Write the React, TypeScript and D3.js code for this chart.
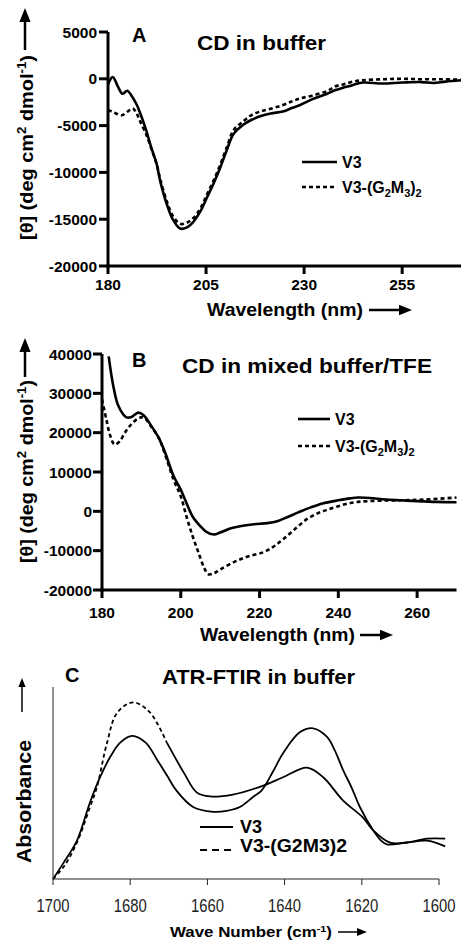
import React from 'react'
import * as d3 from 'd3'

// ---- panel A: CD in buffer ----
const aV3Wl = [180, 181.2, 182.5, 183.7, 184.9, 186, 187.3, 188.5, 189.8, 191, 192.4, 193.3, 195, 196.5, 198.4, 200, 201.7, 203.5, 205.2, 207, 208.6, 210.3, 212, 214.5, 216.5, 218.8, 221.5, 224.6, 227, 229, 232, 235.9, 238, 240, 242.5, 245, 250, 255, 260, 263, 266, 270]
const aV3 = [-600, 200, -800, -1600, -1270, -1800, -2750, -4000, -5600, -7300, -9100, -10900, -13400, -15000, -16000, -15900, -15300, -14200, -12700, -11100, -9500, -7600, -5900, -4900, -4400, -4000, -3700, -3500, -3100, -2800, -2200, -1600, -1200, -950, -650, -400, -500, -400, -350, -450, -300, -150]
const aG2Wl = [180, 181.5, 183.5, 185, 186.3, 187.3, 188.2, 189.8, 191, 192.4, 193.3, 195, 196.5, 198.4, 200, 201.7, 203.5, 205.2, 207, 208.6, 210.3, 212, 214.5, 216.5, 218.8, 221.5, 224.6, 227, 229, 232, 235.9, 238, 240, 242.5, 245, 250, 255, 260, 265, 270]
const aG2 = [-3300, -3600, -3900, -3500, -3170, -3700, -4550, -6000, -7400, -9100, -10700, -13100, -14600, -15500, -15400, -14900, -13900, -12400, -10800, -9200, -7300, -5500, -4550, -3900, -3500, -3200, -2800, -2400, -2100, -1800, -1300, -800, -600, -300, -150, -50, 0, -50, -50, -100]
const aXTicks = [180, 205, 230, 255]
const aYTicks = [5000, 0, -5000, -10000, -15000, -20000]

// ---- panel B: CD in mixed buffer/TFE ----
const bV3Wl = [181.7, 182.9, 184.2, 186.2, 187.5, 189.2, 190.5, 192.6, 194.5, 196, 198.2, 200, 201.5, 203, 205, 206.5, 208.4, 210, 212.7, 215, 218.6, 222, 224.5, 227, 230, 233, 236, 240, 243, 245, 248, 252, 256, 260, 265, 270]
const bV3 = [39400, 31700, 26700, 23900, 24000, 25100, 24500, 21600, 18500, 15000, 8900, 5500, 2000, -1300, -3800, -5200, -5900, -5400, -4300, -3800, -3300, -3000, -2500, -1500, -200, 1000, 2000, 2800, 3300, 3500, 3400, 3000, 2800, 2600, 2400, 2300]
const bG2Wl = [180, 181.1, 182, 183.2, 184.5, 185.8, 187.5, 189.2, 190.5, 192.6, 194.5, 196, 198.2, 200, 201.5, 203, 204.5, 206, 207, 208.5, 210, 213.5, 217, 221, 223.5, 226, 229, 232, 235, 237.5, 240, 242.5, 245, 247.7, 252, 256, 262, 270]
const bG2 = [28400, 23400, 19500, 17000, 17800, 20000, 22200, 23600, 23900, 21400, 18500, 14500, 8000, 3800, -1500, -6300, -10500, -14500, -16000, -15700, -14800, -12900, -11500, -10400, -9000, -7100, -4500, -2000, -400, 500, 1300, 2000, 2400, 2600, 2750, 2800, 3000, 3500]
const bXTicks = [180, 200, 220, 240, 260]
const bYTicks = [40000, 30000, 20000, 10000, 0, -10000, -20000]

// ---- panel C: ATR-FTIR in buffer ----
const cV3Wn = [1700, 1697.4, 1693.8, 1690.4, 1687.8, 1685.2, 1682.6, 1679.5, 1676, 1673, 1670.5, 1668, 1663.7, 1658.5, 1655, 1651.6, 1648, 1646, 1643, 1640.4, 1636, 1632.6, 1629, 1627, 1624.9, 1622.5, 1620.5, 1617.1, 1615, 1613.5, 1608.3, 1603.1, 1598.4]
const cV3 = [0, 0.08, 0.2, 0.4, 0.53, 0.635, 0.71, 0.745, 0.71, 0.62, 0.54, 0.46, 0.375, 0.35, 0.355, 0.375, 0.43, 0.46, 0.56, 0.655, 0.765, 0.785, 0.74, 0.67, 0.57, 0.47, 0.375, 0.255, 0.2, 0.18, 0.19, 0.2, 0.17]
const cG2Wn = [1700, 1697, 1693.8, 1690.5, 1688.6, 1686, 1683.4, 1679.3, 1675, 1670.5, 1666, 1662.7, 1659.3, 1653.4, 1646.4, 1640.4, 1634.2, 1630, 1624.9, 1619.7, 1617.1, 1612.7, 1608.3, 1603.1, 1598.4]
const cG2 = [0, 0.07, 0.19, 0.37, 0.48, 0.71, 0.865, 0.92, 0.87, 0.71, 0.55, 0.45, 0.43, 0.44, 0.48, 0.53, 0.58, 0.53, 0.41, 0.32, 0.255, 0.19, 0.19, 0.21, 0.21]
const cXTicks = [1700, 1680, 1660, 1640, 1620, 1600]

const FONT = "'Liberation Sans', Arial, Helvetica, sans-serif"

const zip = (xs: number[], ys: number[]) => xs.map((v, i) => [v, ys[i]] as [number, number])

function Arrow({ x1, y1, x2, y2, w = 2, head = 10 }: any) {
    // filled arrow pointing from (x1,y1) to (x2,y2)
    const ang = Math.atan2(y2 - y1, x2 - x1)
    const bx = x2 - head * Math.cos(ang)
    const by = y2 - head * Math.sin(ang)
    const hw = head * 0.4
    const px = -Math.sin(ang) * hw
    const py = Math.cos(ang) * hw
    return (
        <g>
            <line x1={x1} y1={y1} x2={bx} y2={by} stroke='#000' strokeWidth={w} />
            <polygon points={`${x2},${y2} ${bx + px},${by + py} ${bx - px},${by - py}`} fill='#000' />
        </g>
    )
}

function CDPanel(props: any) {
    const { L, v3, g2, xTicks, yTicks, yDomain, xDomain } = props
    const x = d3.scaleLinear().domain(xDomain).range([L.x0, L.x1])
    const y = d3.scaleLinear().domain(yDomain).range([L.yb, L.yt])
    const line = d3
        .line<[number, number]>()
        .x(d => x(d[0]))
        .y(d => y(d[1]))
        .curve(d3.curveCatmullRom.alpha(0.5))

    return (
        <g fontFamily={FONT} fontWeight='bold'>
            <path d={line(g2) || ''} fill='none' stroke='#000' strokeWidth={2.6} strokeDasharray='4,3' />
            <path d={line(v3) || ''} fill='none' stroke='#000' strokeWidth={2.6} />

            {/* axes */}
            <line x1={L.x0} x2={L.x0} y1={L.yt} y2={L.yb + 1.5} stroke='#000' strokeWidth={3} />
            <line x1={L.x0 - 1.5} x2={L.x1} y1={L.yb} y2={L.yb} stroke='#000' strokeWidth={3} />
            {yTicks.map((t: number) => (
                <g key={t}>
                    <line x1={L.x0 - L.tick} x2={L.x0} y1={y(t)} y2={y(t)} stroke='#000' strokeWidth={3} />
                    <text x={L.ylabEnd} y={y(t) + 5.5} textAnchor='end' fontSize={15.5}>{t}</text>
                </g>
            ))}
            {xTicks.map((t: number) => (
                <g key={t}>
                    <line x1={x(t)} x2={x(t)} y1={L.yb} y2={L.yb + 8} stroke='#000' strokeWidth={3} />
                    <text x={x(t)} y={L.xlabY} textAnchor='middle' fontSize={15.5}>{t}</text>
                </g>
            ))}

            {/* axis titles */}
            <text x={L.xtX} y={L.xtY} fontSize={18} textLength={L.xtLen} lengthAdjust='spacingAndGlyphs'>
                Wavelength (nm)
            </text>
            <Arrow x1={L.xaX1} y1={L.xtY - 6} x2={L.xaX2} y2={L.xtY - 6} w={2.5} head={13} />
            <text
                transform={`translate(${L.ytX},${L.ytY}) rotate(-90)`}
                fontSize={18}
                textLength={L.ytLen}
                lengthAdjust='spacingAndGlyphs'
            >
                [θ] (deg cm<tspan dy={-7} fontSize={12}>2</tspan>
                <tspan dy={7}> dmol</tspan>
                <tspan dy={-7} fontSize={12}>-1</tspan>
                <tspan dy={7}>)</tspan>
            </text>
            <Arrow x1={L.yaX} y1={L.yaY1} x2={L.yaX} y2={L.yaY2} w={2.5} head={14} />

            {/* titles */}
            <text x={L.letX} y={L.letY} fontSize={20}>{L.letter}</text>
            <text x={L.tX} y={L.tY} fontSize={20} textLength={L.tLen} lengthAdjust='spacingAndGlyphs'>
                {L.title}
            </text>

            {/* legend */}
            <line x1={L.lgX1} x2={L.lgX2} y1={L.lgY1} y2={L.lgY1} stroke='#000' strokeWidth={2.6} />
            <text x={L.lgTX} y={L.lgY1 + 6} fontSize={16}>V3</text>
            <line x1={L.lgX1} x2={L.lgX2} y1={L.lgY2} y2={L.lgY2} stroke='#000' strokeWidth={2.6} strokeDasharray='4,3' />
            <text x={L.lgTX} y={L.lgY2 + 6} fontSize={16}>
                V3-(G<tspan dy={4} fontSize={11}>2</tspan>
                <tspan dy={-4}>M</tspan>
                <tspan dy={4} fontSize={11}>3</tspan>
                <tspan dy={-4}>)</tspan>
                <tspan dy={4} fontSize={11}>2</tspan>
            </text>
        </g>
    )
}

const layoutA = {
    x0: 108, x1: 461, yb: 266, yt: 32, tick: 9, ylabEnd: 97, xlabY: 290,
    xtX: 207, xtY: 316, xtLen: 156, xaX1: 369, xaX2: 412,
    ytX: 33, ytY: 240, ytLen: 185, yaX: 25, yaY1: 50, yaY2: 8,
    letter: 'A', letX: 132, letY: 42, title: 'CD in buffer', tX: 197, tY: 50, tLen: 129,
    lgX1: 302, lgX2: 337, lgY1: 162, lgY2: 187, lgTX: 342,
}

const layoutB = {
    x0: 102, x1: 456.5, yb: 590, yt: 354, tick: 9, ylabEnd: 92, xlabY: 618,
    xtX: 200, xtY: 641, xtLen: 155, xaX1: 360, xaX2: 393,
    ytX: 33, ytY: 563, ytLen: 183, yaX: 25, yaY1: 377, yaY2: 338,
    letter: 'B', letX: 132, letY: 367, title: 'CD in mixed buffer/TFE', tX: 182, tY: 373, tLen: 250,
    lgX1: 298, lgX2: 330, lgY1: 419, lgY2: 446, lgTX: 335,
}

function FTIRPanel() {
    const x = d3.scaleLinear().domain([1700, 1600]).range([53, 439])
    const y = d3.scaleLinear().domain([0, 1]).range([879, 687])
    const line = d3
        .line<[number, number]>()
        .x(d => x(d[0]))
        .y(d => y(d[1]))
        .curve(d3.curveCatmullRom.alpha(0.5))
    const g2 = zip(cG2Wn, cG2)
    // the original trace is only dashed over the first band
    const g2Dashed = g2.filter(d => d[0] >= 1670.5)
    const g2Solid = g2.filter(d => d[0] <= 1670.5)

    return (
        <g fontFamily={FONT}>
            <path d={line(zip(cV3Wn, cV3)) || ''} fill='none' stroke='#000' strokeWidth={1.8} />
            <path d={line(g2Dashed) || ''} fill='none' stroke='#000' strokeWidth={1.8} strokeDasharray='4,3' />
            <path d={line(g2Solid) || ''} fill='none' stroke='#000' strokeWidth={1.8} />

            <line x1={53} x2={53} y1={687} y2={879} stroke='#222' strokeWidth={1} />
            <line x1={53} x2={439} y1={879} y2={879} stroke='#222' strokeWidth={1} />
            {cXTicks.map(t => (
                <g key={t}>
                    <line x1={x(t)} x2={x(t)} y1={879} y2={885} stroke='#222' strokeWidth={1} />
                    <text x={x(t)} y={912} textAnchor='middle' fontSize={19} fill='#222' textLength={33} lengthAdjust='spacingAndGlyphs'>
                        {t}
                    </text>
                </g>
            ))}

            <g fontWeight='bold'>
                <text x={170} y={937} fontSize={14} textLength={162} lengthAdjust='spacingAndGlyphs'>
                    Wave Number (cm<tspan dy={-5} fontSize={9}>-1</tspan>
                    <tspan dy={5}>)</tspan>
                </text>
                <Arrow x1={338} y1={932} x2={367} y2={932} w={1.5} head={10} />
                <text transform='translate(31,863) rotate(-90)' fontSize={21} textLength={123} lengthAdjust='spacingAndGlyphs'>
                    Absorbance
                </text>
                <Arrow x1={22} y1={712} x2={22} y2={678} w={1.5} head={9} />

                <text x={65} y={682} fontSize={20}>C</text>
                <text x={162} y={684} fontSize={20} textLength={193} lengthAdjust='spacingAndGlyphs'>
                    ATR-FTIR in buffer
                </text>

                <line x1={200} x2={233} y1={827} y2={827} stroke='#000' strokeWidth={2} />
                <text x={240} y={833} fontSize={18}>V3</text>
                <line x1={200} x2={233} y1={850} y2={850} stroke='#000' strokeWidth={2} strokeDasharray='7,5' />
                <text x={240} y={852} fontSize={18} textLength={107} lengthAdjust='spacingAndGlyphs'>
                    V3-(G2M3)2
                </text>
            </g>
        </g>
    )
}

export default function App() {
    return (
        <div style={{ position: 'absolute', left: 0, top: 0, background: '#fff' }}>
            <svg width={461} height={943} viewBox='0 0 461 943' style={{ display: 'block' }}>
                <rect width={461} height={943} fill='#fff' />
                <CDPanel
                    L={layoutA}
                    v3={zip(aV3Wl, aV3)}
                    g2={zip(aG2Wl, aG2)}
                    xTicks={aXTicks}
                    yTicks={aYTicks}
                    xDomain={[180, 270]}
                    yDomain={[-20000, 5000]}
                />
                <CDPanel
                    L={layoutB}
                    v3={zip(bV3Wl, bV3)}
                    g2={zip(bG2Wl, bG2)}
                    xTicks={bXTicks}
                    yTicks={bYTicks}
                    xDomain={[180, 270]}
                    yDomain={[-20000, 40000]}
                />
                <FTIRPanel />
            </svg>
        </div>
    )
}
